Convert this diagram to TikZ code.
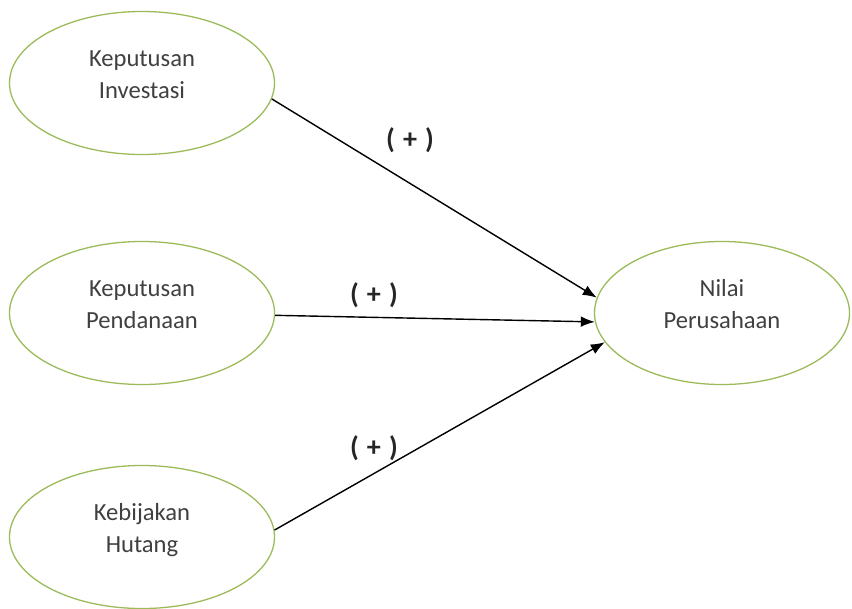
\documentclass[tikz,border=0pt]{standalone}
\usepackage{fontspec}
\setmainfont{Carlito}
\usetikzlibrary{arrows.meta, shapes.geometric}

\definecolor{olivegreen}{RGB}{155,187,89}
\definecolor{textgray}{RGB}{64,64,64}
\newcommand\lifted[1]{\raisebox{6pt}[\height][\depth]{\begin{tabular}{@{}c@{}}#1\end{tabular}}}

\begin{document}
\begin{tikzpicture}[
x=0.03cm, y=-0.03cm,
var/.style={ellipse, draw=olivegreen, line width=1.1pt, inner sep=0pt,
  minimum width=7.95cm, minimum height=4.29cm, font=\fontsize{21}{27}\selectfont, text=textgray},
line/.style={-{Latex[length=4.2mm, width=3.2mm]}, line width=1.2pt},
sign/.style={font=\fontsize{24}{26}\selectfont\bfseries, text=black!85}
]
\useasboundingbox (0,0) rectangle (852,608);

\node[var] (invest) at (142,83) {\lifted{Keputusan\\Investasi}};
\node[var] (dana) at (142,313) {\lifted{Keputusan\\Pendanaan}};
\node[var] (hutang) at (142,537) {\lifted{Kebijakan\\Hutang}};
\node[var, minimum width=7.65cm] (nilai) at (722,313) {\lifted{Nilai\\Perusahaan}};

\draw[line] (invest.-7) -- (nilai.173);
\draw[line] (dana.-1) -- (nilai.184);
\draw[line] (hutang.3) -- (nilai.194);

\node[sign] (s1) at (410,140) {(\hspace{7pt}+\hspace{7pt})};
\node[sign] (s2) at (374,295) {(\hspace{7pt}+\hspace{7pt})};
\node[sign] (s3) at (374,448) {(\hspace{7pt}+\hspace{7pt})};
\end{tikzpicture}
\end{document}
